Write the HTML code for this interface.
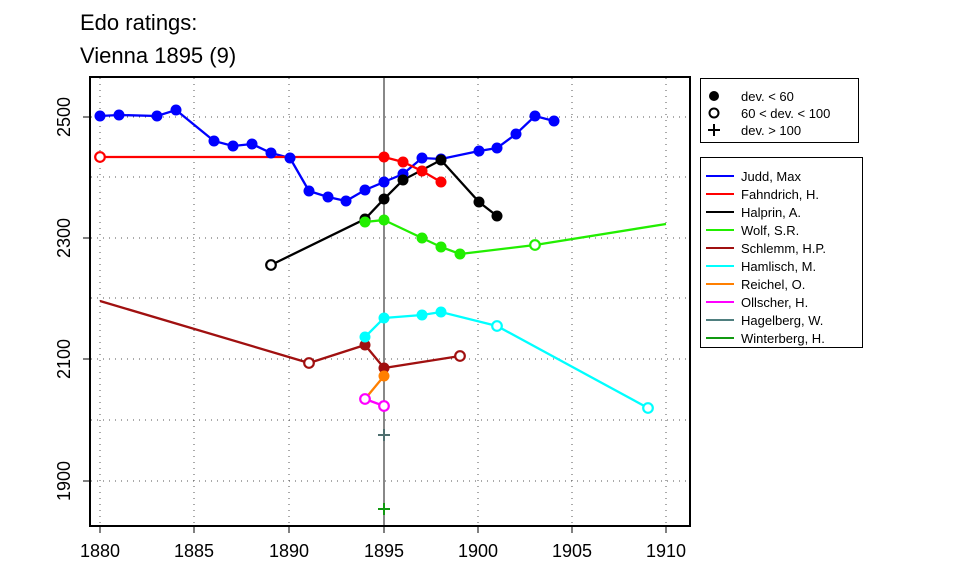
<!DOCTYPE html>
<html><head><meta charset="utf-8"><style>body{margin:0;background:#fff}svg{display:block;font-family:"Liberation Sans",Arial,sans-serif}</style></head>
<body>
<svg width="960" height="576" viewBox="0 0 960 576" xmlns="http://www.w3.org/2000/svg">
<rect width="960" height="576" fill="#fff"/>
<text x="80" y="30" font-size="22">Edo ratings:</text>
<text x="80" y="63" font-size="22">Vienna 1895 (9)</text>
<g stroke="#555" stroke-width="1" stroke-dasharray="1,5" fill="none">
<path d="M100,78V525M194,78V525M289,78V525M478,78V525M572,78V525M666,78V525"/>
<path d="M91,117H689M91,177H689M91,238H689M91,298H689M91,359H689M91,420H689M91,481H689"/>
</g>
<line x1="384" y1="78" x2="384" y2="525" stroke="#888" stroke-width="2"/>
<g fill="none" stroke-width="2.3">
<polyline stroke="#0000ff" points="100,116 119,115 157,116 176,110 214,141 233,146 252,144 271,153 290,158 309,191 328,197 346,201 365,190 384,182 403,174 422,158 441,159 479,151 497,148 516,134 535,116 554,121"/>
<polyline stroke="#ff0000" points="100,157 384,157 403,162 422,171 441,182"/>
<polyline stroke="#000" points="271,265 365,219 384,199 403,180 441,160 479,202 497,216"/>
<polyline stroke="#22ee00" points="365,222 384,220 422,238 441,247 460,254 535,245 666,224"/>
<polyline stroke="#a01010" points="100,301 309,363 365,345 384,368 460,356"/>
<polyline stroke="#00ffff" points="365,337 384,318 422,315 441,312 497,326 648,408"/>
<polyline stroke="#ff7f00" points="365,399 384,376"/>
<polyline stroke="#ff00ff" points="365,399 384,406"/>
</g>
<g fill="#0000ff"><circle cx="100" cy="116" r="5.5"/><circle cx="119" cy="115" r="5.5"/><circle cx="157" cy="116" r="5.5"/><circle cx="176" cy="110" r="5.5"/><circle cx="214" cy="141" r="5.5"/><circle cx="233" cy="146" r="5.5"/><circle cx="252" cy="144" r="5.5"/><circle cx="271" cy="153" r="5.5"/><circle cx="290" cy="158" r="5.5"/><circle cx="309" cy="191" r="5.5"/><circle cx="328" cy="197" r="5.5"/><circle cx="346" cy="201" r="5.5"/><circle cx="365" cy="190" r="5.5"/><circle cx="384" cy="182" r="5.5"/><circle cx="403" cy="174" r="5.5"/><circle cx="422" cy="158" r="5.5"/><circle cx="441" cy="159" r="5.5"/><circle cx="479" cy="151" r="5.5"/><circle cx="497" cy="148" r="5.5"/><circle cx="516" cy="134" r="5.5"/><circle cx="535" cy="116" r="5.5"/><circle cx="554" cy="121" r="5.5"/></g>
<g fill="#ff0000"><circle cx="384" cy="157" r="5.5"/><circle cx="403" cy="162" r="5.5"/><circle cx="422" cy="171" r="5.5"/><circle cx="441" cy="182" r="5.5"/></g>
<g fill="#000"><circle cx="365" cy="219" r="5.5"/><circle cx="384" cy="199" r="5.5"/><circle cx="403" cy="180" r="5.5"/><circle cx="441" cy="160" r="5.5"/><circle cx="479" cy="202" r="5.5"/><circle cx="497" cy="216" r="5.5"/></g>
<g fill="#22ee00"><circle cx="365" cy="222" r="5.5"/><circle cx="384" cy="220" r="5.5"/><circle cx="422" cy="238" r="5.5"/><circle cx="441" cy="247" r="5.5"/><circle cx="460" cy="254" r="5.5"/></g>
<g fill="#a01010"><circle cx="365" cy="345" r="5.5"/><circle cx="384" cy="368" r="5.5"/></g>
<g fill="#00ffff"><circle cx="365" cy="337" r="5.5"/><circle cx="384" cy="318" r="5.5"/><circle cx="422" cy="315" r="5.5"/><circle cx="441" cy="312" r="5.5"/></g>
<circle cx="384" cy="376" r="5.5" fill="#ff7f00"/>
<g fill="#fff" stroke-width="2.2"><circle cx="100" cy="157" r="4.8" stroke="#ff0000"/><circle cx="271" cy="265" r="4.8" stroke="#000"/><circle cx="535" cy="245" r="4.8" stroke="#22ee00"/><circle cx="309" cy="363" r="4.8" stroke="#a01010"/><circle cx="460" cy="356" r="4.8" stroke="#a01010"/><circle cx="497" cy="326" r="4.8" stroke="#00ffff"/><circle cx="648" cy="408" r="4.8" stroke="#00ffff"/><circle cx="365" cy="399" r="4.8" stroke="#ff00ff"/><circle cx="384" cy="406" r="4.8" stroke="#ff00ff"/></g>
<path d="M378,435h12M384,429v12" stroke="#4f6f6f" stroke-width="2"/>
<path d="M378,509h12M384,503v12" stroke="#119911" stroke-width="2"/>
<rect x="90" y="77" width="600" height="449" fill="none" stroke="#000" stroke-width="2"/>
<g stroke="#000" stroke-width="1"><path d="M100,526v7M194,526v7M289,526v7M384,526v7M478,526v7M572,526v7M666,526v7M90,117h-7M90,238h-7M90,359h-7M90,481h-7"/></g>
<g font-size="18" text-anchor="middle"><text x="100" y="557">1880</text><text x="194" y="557">1885</text><text x="289" y="557">1890</text><text x="384" y="557">1895</text><text x="478" y="557">1900</text><text x="572" y="557">1905</text><text x="666" y="557">1910</text>
<text transform="translate(70,117) rotate(-90)">2500</text><text transform="translate(70,238) rotate(-90)">2300</text><text transform="translate(70,359) rotate(-90)">2100</text><text transform="translate(70,481) rotate(-90)">1900</text></g>
<rect x="700.5" y="78.5" width="158" height="64" fill="#fff" stroke="#000"/>
<g font-size="13"><circle cx="714" cy="96" r="5"/><text x="741" y="101">dev. &lt; 60</text>
<circle cx="714" cy="113" r="4.5" fill="none" stroke="#000" stroke-width="2"/><text x="741" y="118">60 &lt; dev. &lt; 100</text>
<path d="M708,130h12M714,124v12" stroke="#000" stroke-width="2"/><text x="741" y="135">dev. &gt; 100</text></g>
<rect x="700.5" y="157.5" width="162" height="190" fill="#fff" stroke="#000"/>
<g font-size="13" stroke-width="2">
<line x1="706" x2="734" y1="176" y2="176" stroke="#0000ff"/><text x="741" y="181">Judd, Max</text>
<line x1="706" x2="734" y1="194" y2="194" stroke="#ff0000"/><text x="741" y="199">Fahndrich, H.</text>
<line x1="706" x2="734" y1="212" y2="212" stroke="#000"/><text x="741" y="217">Halprin, A.</text>
<line x1="706" x2="734" y1="230" y2="230" stroke="#22ee00"/><text x="741" y="235">Wolf, S.R.</text>
<line x1="706" x2="734" y1="248" y2="248" stroke="#a01010"/><text x="741" y="253">Schlemm, H.P.</text>
<line x1="706" x2="734" y1="266" y2="266" stroke="#00ffff"/><text x="741" y="271">Hamlisch, M.</text>
<line x1="706" x2="734" y1="284" y2="284" stroke="#ff7f00"/><text x="741" y="289">Reichel, O.</text>
<line x1="706" x2="734" y1="302" y2="302" stroke="#ff00ff"/><text x="741" y="307">Ollscher, H.</text>
<line x1="706" x2="734" y1="320" y2="320" stroke="#4f7f7f"/><text x="741" y="325">Hagelberg, W.</text>
<line x1="706" x2="734" y1="338" y2="338" stroke="#119911"/><text x="741" y="343">Winterberg, H.</text>
</g>
</svg>
</body></html>
